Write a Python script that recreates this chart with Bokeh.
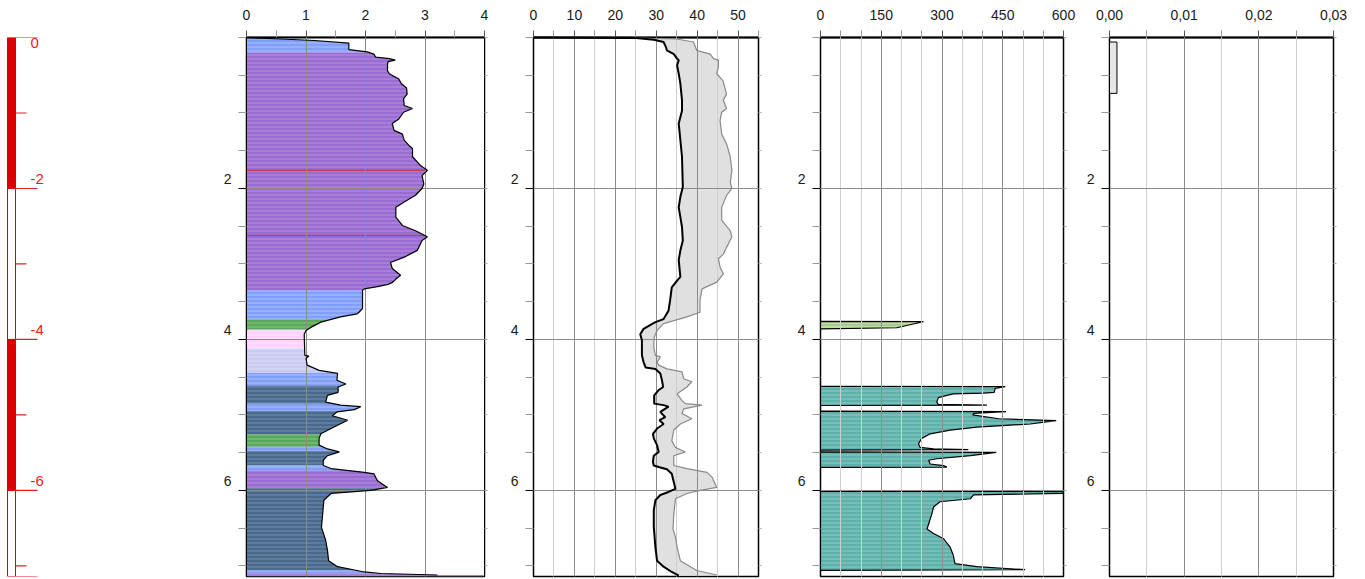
from bokeh.plotting import figure
from bokeh.layouts import row
from bokeh.models import Range1d, FixedTicker, LinearAxis
from bokeh.core.properties import value
from bokeh.embed import file_html
from bokeh.resources import INLINE

DMAX = 7.14
FONT = "Liberation Sans"

# ---------------- data ----------------
# elevation scale bar
scale_top = [0, -2, -4, -6]
scale_bottom = [-2, -4, -6, -7.14]
scale_major = [0, -2, -4, -6, -7.14]
scale_minor = [-1, -3, -5, -7]
scale_labels = ["0", "-2", "-4", "-6"]

# depth axis
depth_labels = [2, 4, 6]
depth_minor = [0, 0.5, 1, 1.5, 2.5, 3, 3.5, 4.5, 5, 5.5, 6.5, 7]
depth_all = [0, 0.5, 1, 1.5, 2, 2.5, 3, 3.5, 4, 4.5, 5, 5.5, 6, 6.5, 7]

# track 1 : profile + soil zones
ic_depth = [0.00, 0.02, 0.04, 0.075, 0.16, 0.19, 0.22, 0.26, 0.28, 0.30, 0.32, 0.35, 0.44, 0.48, 0.55,
            0.61, 0.67, 0.75, 0.81, 0.90, 0.94, 0.99, 1.08, 1.14, 1.23, 1.28, 1.36, 1.43, 1.47, 1.58,
            1.70, 1.76, 1.83, 1.94, 2.00, 2.09, 2.18, 2.25, 2.38, 2.49, 2.56, 2.64, 2.69, 2.82, 2.91,
            2.98, 3.06, 3.15, 3.20, 3.24, 3.27, 3.30, 3.33, 3.35, 3.59, 3.64, 3.66, 3.70, 3.77, 3.84,
            3.88, 3.93, 4.21, 4.22, 4.25, 4.34, 4.41, 4.45, 4.54, 4.59, 4.63, 4.70, 4.74, 4.83, 4.87,
            4.89, 4.92, 4.93, 4.96, 5.01, 5.03, 5.07, 5.16, 5.25, 5.31, 5.40, 5.45, 5.49, 5.54, 5.60,
            5.67, 5.71, 5.76, 5.78, 5.87, 5.96, 6.00, 6.04, 6.13, 6.22, 6.49, 6.66, 6.79, 6.93, 7.01,
            7.08, 7.10, 7.12]
ic_value = [0.00, 0.58, 1.14, 1.72, 1.72, 2.03, 2.14, 2.17, 2.40, 2.50, 2.38, 2.37, 2.37, 2.40, 2.56,
            2.60, 2.69, 2.70, 2.64, 2.65, 2.79, 2.64, 2.56, 2.45, 2.48, 2.62, 2.65, 2.73, 2.79, 2.79,
            2.93, 3.04, 2.95, 2.98, 2.95, 2.84, 2.65, 2.51, 2.51, 2.62, 2.84, 3.04, 2.95, 2.87, 2.65,
            2.42, 2.45, 2.59, 2.51, 2.46, 2.38, 2.20, 1.98, 1.95, 1.95, 1.89, 1.86, 1.58, 1.25, 1.08,
            1.00, 0.97, 0.98, 1.05, 1.00, 1.02, 1.22, 1.53, 1.52, 1.67, 1.54, 1.54, 1.36, 1.33, 1.58,
            1.92, 1.84, 1.81, 1.52, 1.44, 1.53, 1.70, 1.47, 1.25, 1.22, 1.22, 1.36, 1.56, 1.36, 1.29,
            1.29, 1.42, 1.98, 2.14, 2.20, 2.37, 2.09, 1.42, 1.30, 1.29, 1.26, 1.33, 1.36, 1.38, 1.53,
            1.98, 2.26, 3.21]
zone_top = [0.00, 0.20, 3.35, 3.74, 3.87, 4.12, 4.44, 4.61, 4.85, 4.95, 5.26, 5.42, 5.48, 5.67, 5.74,
            5.97, 7.06, 7.10]
zone_bottom = [0.20, 3.35, 3.74, 3.87, 4.12, 4.44, 4.61, 4.85, 4.95, 5.26, 5.42, 5.48, 5.67, 5.74,
               5.97, 7.06, 7.10, 7.14]
zone_type = ["sand", "clay", "sand", "org", "peat", "silt", "sand", "loam", "sand", "loam", "org",
             "sand", "loam", "sand", "clay", "loam", "sand", "clay"]
ic_marks = [1.76, 2.62]

# track 2 : lower / upper bound
lo_depth = [0.00, 0.005, 0.03, 0.06, 0.13, 0.17, 0.22, 0.28, 0.30, 0.37, 0.48, 0.61, 0.83, 0.97, 1.14,
            1.36, 1.58, 1.98, 2.11, 2.25, 2.38, 2.51, 2.69, 2.82, 2.95, 3.17, 3.22, 3.31, 3.48, 3.62,
            3.73, 3.77, 3.86, 3.93, 4.01, 4.21, 4.30, 4.37, 4.39, 4.45, 4.54, 4.63, 4.67, 4.74, 4.85,
            4.87, 4.89, 4.96, 5.03, 5.07, 5.12, 5.18, 5.25, 5.31, 5.40, 5.49, 5.54, 5.62, 5.67, 5.69,
            5.72, 5.78, 5.89, 5.98, 6.02, 6.06, 6.13, 6.26, 6.48, 6.75, 6.93, 7.01, 7.08, 7.13]
lo_value = [0.0, 24.5, 29.4, 31.8, 32.4, 32.6, 34.3, 35.1, 35.5, 35.1, 35.5, 35.9, 36.3, 36.3, 35.5,
            35.9, 36.3, 36.5, 35.9, 35.5, 35.9, 36.3, 36.5, 35.9, 35.5, 35.9, 35.1, 33.8, 33.4, 33.0,
            31.8, 29.8, 26.9, 26.1, 26.5, 26.5, 26.9, 27.4, 29.8, 31.0, 31.4, 31.7, 30.6, 29.5, 29.5,
            31.8, 33.0, 31.0, 32.2, 30.8, 31.8, 30.2, 29.2, 29.4, 30.2, 30.6, 29.4, 29.2, 29.4, 30.6,
            32.6, 33.8, 34.3, 34.7, 33.0, 31.0, 29.8, 29.4, 29.4, 29.8, 30.2, 31.8, 33.8, 35.5]
hi_depth = [0.00, 0.02, 0.06, 0.17, 0.22, 0.28, 0.30, 0.39, 0.48, 0.57, 0.75, 0.83, 0.94, 0.99, 1.10,
            1.28, 1.41, 1.58, 1.76, 1.92, 2.00, 2.09, 2.25, 2.42, 2.56, 2.64, 2.78, 2.87, 2.93, 3.04,
            3.13, 3.24, 3.28, 3.33, 3.48, 3.64, 3.70, 3.79, 3.88, 3.97, 4.10, 4.21, 4.23, 4.30, 4.34,
            4.39, 4.43, 4.52, 4.56, 4.63, 4.72, 4.81, 4.85, 4.87, 4.92, 4.98, 5.05, 5.12, 5.20, 5.34,
            5.43, 5.49, 5.54, 5.67, 5.71, 5.76, 5.82, 5.96, 6.00, 6.04, 6.11, 6.31, 6.51, 6.62, 6.75,
            6.93, 7.06, 7.12]
hi_value = [20.0, 35.0, 39.1, 39.9, 43.2, 44.0, 45.2, 45.2, 44.8, 46.3, 47.2, 46.4, 47.2, 46.0, 45.6,
            46.0, 47.2, 48.1, 48.5, 48.1, 48.5, 47.2, 46.0, 46.0, 48.1, 48.5, 47.2, 46.4, 45.2, 45.6,
            46.4, 44.8, 43.2, 41.2, 40.7, 40.7, 37.5, 31.8, 30.2, 29.5, 29.4, 29.8, 31.0, 30.2, 30.6,
            32.6, 36.3, 36.7, 38.7, 37.5, 35.1, 36.3, 37.1, 41.2, 36.7, 36.3, 38.7, 35.9, 34.3, 33.8,
            34.7, 37.1, 34.3, 34.3, 37.5, 42.4, 43.6, 44.8, 40.7, 37.5, 34.7, 34.3, 34.1, 34.7, 35.1,
            35.9, 39.9, 44.8]

# track 3 : blocks
qt_d1 = [3.76, 3.765, 3.845, 3.86]
qt_v1 = [0, 254, 188, 0]
qt_d2 = [4.62, 4.625, 4.65, 4.70, 4.71, 4.72, 4.74, 4.77, 4.83, 4.86, 4.87, 4.875]
qt_v2 = [0, 456, 431, 429, 402, 328, 312, 291, 287, 291, 411, 0]
qt_d3 = [4.95, 4.955, 4.98, 5.00, 5.05, 5.075, 5.12, 5.16, 5.20, 5.25, 5.31, 5.38, 5.43, 5.45, 5.46, 5.465]
qt_v3 = [0, 458, 378, 376, 440, 582, 518, 386, 320, 271, 250, 242, 246, 279, 365, 0]
qt_d4 = [5.49, 5.495, 5.54, 5.58, 5.60, 5.65, 5.67, 5.69, 5.695]
qt_v4 = [0, 434, 370, 287, 267, 271, 304, 312, 0]
qt_d5 = [6.01, 6.015, 6.04, 6.06, 6.11, 6.15, 6.22, 6.31, 6.51, 6.57, 6.64, 6.75, 6.86, 6.97, 7.01, 7.05, 7.06]
qt_v5 = [0, 600, 600, 378, 370, 295, 279, 275, 263, 279, 304, 320, 328, 332, 386, 505, 0]

# track 4
fr_top = [0.06]
fr_bottom = [0.74]
fr_value = [0.001]

# ---------------- styles ----------------
ZONE_FILL = {"sand": "#819ff7", "clay": "#9a6bd0", "org": "#5aa95a", "peat": "#ffd2fe",
             "silt": "#d3d3f3", "loam": "#4a6a8d"}
ZONE_HATCH = {"sand": "#a3b8ff", "clay": "#ae8ade", "org": "#7bbf7b", "peat": "#ffe2ff",
              "silt": "#c6c6ee", "loam": "#6a84a6"}

TB, FH, BB, RB = 37, 539, 3, 20
TXT = "#1a1a1a"


def make_track(xmax, lb, fw, top_major, top_minor, grid_major, grid_minor, overrides=None):
    p = figure(width=lb + fw + RB, height=TB + FH + BB,
               x_range=Range1d(0, xmax), y_range=Range1d(DMAX, 0),
               x_axis_location="above", y_axis_location="left",
               output_backend="svg", toolbar_location=None,
               min_border_left=lb, min_border_right=RB, min_border_top=TB, min_border_bottom=BB)
    p.outline_line_color = "black"
    p.outline_line_width = 1.5
    xa = p.xaxis[0]
    xa.ticker = FixedTicker(ticks=top_major, minor_ticks=top_minor)
    xa.major_tick_out = 7
    xa.major_tick_in = 0
    xa.minor_tick_out = 7
    xa.minor_tick_in = 0
    xa.major_tick_line_color = "#555555"
    xa.minor_tick_line_color = "#9a9a9a"
    xa.axis_line_color = "black"
    xa.axis_line_width = 2
    xa.major_label_text_font = FONT
    xa.major_label_text_font_size = "14px"
    xa.major_label_text_color = TXT
    xa.major_label_standoff = 11
    if overrides:
        xa.major_label_overrides = overrides
    ya = p.yaxis[0]
    ya.ticker = FixedTicker(ticks=depth_labels, minor_ticks=depth_minor)
    # trailing newline lifts the label so that it sits just above its tick
    ya.major_label_overrides = {d: f"{d}\n" for d in depth_labels}
    ya.major_label_text_font = FONT
    ya.major_label_text_font_size = "14px"
    ya.major_label_text_color = TXT
    ya.major_label_standoff = 7
    ya.major_tick_out = 8
    ya.major_tick_in = 0
    ya.minor_tick_out = 8
    ya.minor_tick_in = 0
    ya.major_tick_line_color = "black"
    ya.minor_tick_line_color = "#9a9a9a"
    ya.axis_line_color = "black"
    ra = LinearAxis(ticker=FixedTicker(ticks=[], minor_ticks=depth_all),
                    minor_tick_out=3, minor_tick_in=0, major_tick_out=0, major_tick_in=0,
                    minor_tick_line_color="#aaaaaa", axis_line_color="black")
    p.add_layout(ra, "right")
    p.xgrid.ticker = FixedTicker(ticks=grid_major, minor_ticks=grid_minor)
    p.xgrid.grid_line_color = "#8c8c8c"
    p.xgrid.minor_grid_line_color = "#cfcfcf" if grid_minor else None
    p.ygrid.ticker = FixedTicker(ticks=depth_labels)
    p.ygrid.grid_line_color = "#8c8c8c"
    p.xgrid.level = "guide"
    p.ygrid.level = "guide"
    return p


# ---------------- elevation scale ----------------
p0 = figure(width=200, height=TB + FH + BB, x_range=Range1d(-7, 193), y_range=Range1d(-DMAX, 0),
            x_axis_location=None, y_axis_location=None, output_backend="svg", toolbar_location=None,
            min_border_left=0, min_border_right=0, min_border_top=TB, min_border_bottom=BB)
p0.grid.visible = False
p0.outline_line_color = None
p0.quad(left=0, right=8, top=scale_top, bottom=scale_bottom,
        fill_color=["#dd0000", "white", "#dd0000", "white"], line_color="#dd0000", line_width=1)
p0.segment(x0=8, x1=30, y0=scale_major, y1=scale_major, line_color="#e02020", line_width=1.2)
p0.segment(x0=8, x1=19, y0=scale_minor, y1=scale_minor, line_color="#e02020", line_width=1.2)
p0.text(x=[23], y=scale_top[:1], text=scale_labels[:1], text_font=value(FONT), text_font_size="15px",
        text_color="#ee1c1c", text_baseline="top", text_align="left")
p0.text(x=[23] * 3, y=scale_top[1:], text=scale_labels[1:], text_font=value(FONT), text_font_size="15px",
        text_color="#ee1c1c", text_baseline="bottom", text_align="left", y_offset=-4)

# ---------------- track 1 ----------------
p1 = make_track(4, 46, 238, [0, 1, 2, 3, 4], [0.5, 1.5, 2.5, 3.5], [1, 2, 3], [])
p1.quad(left=0, right=4, top=zone_top, bottom=zone_bottom,
        fill_color=[ZONE_FILL[z] for z in zone_type], line_color=None,
        hatch_pattern="horizontal_line", hatch_color=[ZONE_HATCH[z] for z in zone_type],
        hatch_scale=4, hatch_weight=1.3)
p1.segment(x0=0, x1=4, y0=ic_marks, y1=ic_marks, line_color="#b0406a", line_width=1.2)
p1.harea(x1=ic_value, x2=4, y=ic_depth, fill_color="white")
r = p1.line(ic_value, ic_depth, line_color="black", line_width=1.2)
r.level = "annotation"

# ---------------- track 2 ----------------
p2 = make_track(55, 29, 225, [0, 10, 20, 30, 40, 50], [5, 15, 25, 35, 45, 55],
                [10, 20, 30, 40, 50], [5, 15, 25, 35, 45])
p2.patch(lo_value + hi_value[::-1], lo_depth + hi_depth[::-1], fill_color="#e0e0e0", line_color=None)
r = p2.line(hi_value, hi_depth, line_color="#8a8a8a", line_width=1.2)
r.level = "annotation"
r = p2.line(lo_value, lo_depth, line_color="black", line_width=2)
r.level = "annotation"

# ---------------- track 3 ----------------
p3 = make_track(600, 42, 243, [0, 150, 300, 450, 600],
                [50, 100, 200, 250, 350, 400, 500, 550],
                [150, 300, 450], [50, 100, 200, 250, 350, 400, 500, 550])
p3.patches([qt_v1, qt_v2, qt_v3, qt_v4, qt_v5], [qt_d1, qt_d2, qt_d3, qt_d4, qt_d5],
           fill_color=["#9ccf9c", "#5fb0aa", "#5fb0aa", "#5fb0aa", "#5fb0aa"],
           hatch_pattern="horizontal_line",
           hatch_color=["#dfe49a", "#82c6c0", "#82c6c0", "#82c6c0", "#82c6c0"],
           hatch_scale=4, hatch_weight=1.3, line_color="black", line_width=1.2)

# ---------------- track 4 ----------------
t4_major = [0, 0.01, 0.02, 0.03]
p4 = make_track(0.03, 25, 225, t4_major, [0.005, 0.015, 0.025], [0.01, 0.02], [0.005, 0.015, 0.025],
                overrides={t: f"{t:.2f}".replace(".", ",") for t in t4_major})
p4.quad(left=0, right=fr_value, top=fr_top, bottom=fr_bottom, fill_color="#e6e6e6",
        line_color="black", line_width=1)

layout = row(p0, p1, p2, p3, p4)
open("out.html", "w").write(file_html(layout, INLINE))
